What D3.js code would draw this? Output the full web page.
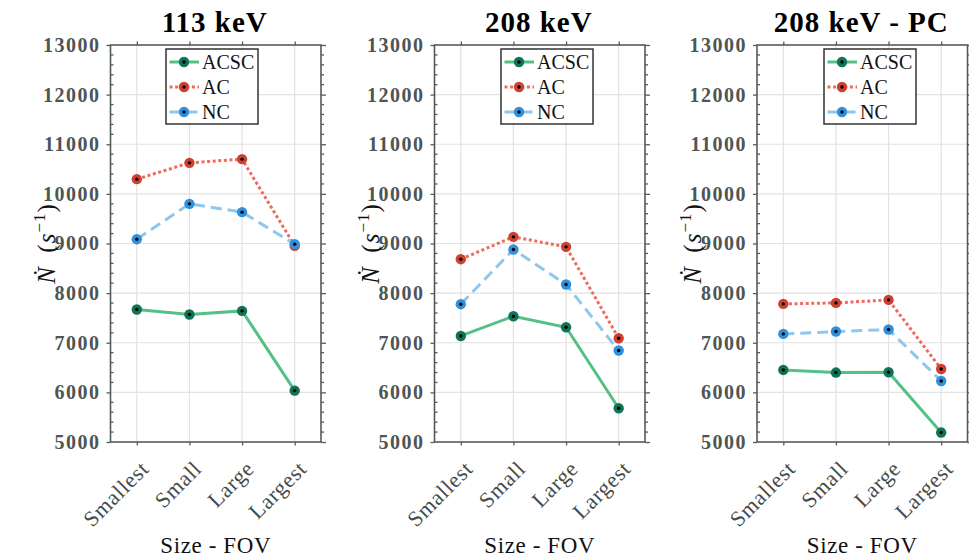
<!DOCTYPE html>
<html>
<head>
<meta charset="utf-8">
<script src="https://cdn.jsdelivr.net/npm/d3@7/dist/d3.min.js"></script>
<style>
  html, body { margin: 0; padding: 0; background: #fff; }
  svg { display: block; }
  text { font-family: "Liberation Serif", "Times New Roman", serif; }
</style>
</head>
<body>
<div id="chart"></div>
<script>
// ---------------- data ----------------
const categories = ["Smallest", "Small", "Large", "Largest"];
const panelTitles = ["113 keV", "208 keV", "208 keV - PC"];
const seriesNames = ["ACSC", "AC", "NC"];

const acsc113 = [7670, 7569, 7642, 6036];
const ac113   = [10297, 10625, 10700, 8952];
const nc113   = [9087, 9799, 9632, 8987];

const acsc208 = [7137, 7535, 7313, 5680];
const ac208   = [8684, 9134, 8932, 7091];
const nc208   = [7777, 8880, 8174, 6843];

const acsc208pc = [6452, 6399, 6405, 5190];
const ac208pc   = [7783, 7803, 7863, 6472];
const nc208pc   = [7178, 7226, 7266, 6230];

const yTicks = [5000, 6000, 7000, 8000, 9000, 10000, 11000, 12000, 13000];
const yDomain = [5000, 13000];

const panelData = [
  [acsc113, ac113, nc113],
  [acsc208, ac208, nc208],
  [acsc208pc, ac208pc, nc208pc]
];

// ---------------- styles ----------------
const lineColors   = ["#55c084", "#ee6b60", "#8ec7ec"];
const markerColors = ["#0f7456", "#cf4031", "#2f90dc"];
const dashes       = [null, "3,2.6", "11,6"];

const W = 969, H = 560;
const plotLeft = [110.5, 434.5, 757];
const plotW = 210.5;
const plotTop = 45, plotBottom = 442;
const legendLeft = [166, 501, 824];

const svg = d3.select("#chart").append("svg")
  .attr("width", W).attr("height", H);

const y = d3.scaleLinear().domain(yDomain).range([plotBottom, plotTop]);
const minorTicks = d3.range(5000, 13001, 200).filter(v => v % 1000 !== 0);

panelData.forEach((series, p) => {
  const x0 = plotLeft[p];
  const x = d3.scaleLinear().domain([0.5, 4.5]).range([x0, x0 + plotW]);
  const g = svg.append("g");

  // grid
  g.append("g").selectAll("line").data(yTicks.slice(1, -1)).join("line")
    .attr("x1", x0).attr("x2", x0 + plotW)
    .attr("y1", d => y(d)).attr("y2", d => y(d))
    .attr("stroke", "#e2e2e2").attr("stroke-width", 1.2);
  g.append("g").selectAll("line").data(categories).join("line")
    .attr("x1", (d, i) => x(i + 1)).attr("x2", (d, i) => x(i + 1))
    .attr("y1", plotTop).attr("y2", plotBottom)
    .attr("stroke", "#e2e2e2").attr("stroke-width", 1.2);

  // left axis with labels
  const axL = g.append("g").attr("transform", `translate(${x0},0)`)
    .call(d3.axisLeft(y).tickValues(yTicks).tickSize(4).tickPadding(6).tickFormat(d3.format("d")));
  axL.select(".domain").remove();
  axL.selectAll("line").attr("stroke", "#555b5b").attr("stroke-width", 1.3);
  axL.selectAll("text").attr("font-size", 20).attr("font-weight", "bold")
    .attr("fill", "#4e5555").attr("letter-spacing", "1.5px")
    .attr("font-family", "'Liberation Serif', serif");
  // inward minor ticks on left
  g.append("g").selectAll("line").data(minorTicks).join("line")
    .attr("x1", x0).attr("x2", x0 + 3)
    .attr("y1", d => y(d)).attr("y2", d => y(d))
    .attr("stroke", "#555b5b").attr("stroke-width", 1.3);

  // right axis (outward ticks)
  const axR = g.append("g").attr("transform", `translate(${x0 + plotW},0)`)
    .call(d3.axisRight(y).tickValues(yTicks).tickSize(5).tickFormat(""));
  axR.select(".domain").remove();
  axR.selectAll("line").attr("stroke", "#555b5b").attr("stroke-width", 1.3);
  g.append("g").selectAll("line").data(minorTicks).join("line")
    .attr("x1", x0 + plotW).attr("x2", x0 + plotW + 3)
    .attr("y1", d => y(d)).attr("y2", d => y(d))
    .attr("stroke", "#555b5b").attr("stroke-width", 1.3);

  // top & bottom ticks (outward)
  const tickVals = categories.map((c, i) => i + 1);
  const axT = g.append("g").attr("transform", `translate(0,${plotTop})`)
    .call(d3.axisTop(x).tickValues(tickVals).tickSize(3.5).tickFormat(""));
  axT.select(".domain").remove();
  axT.selectAll("line").attr("stroke", "#555b5b").attr("stroke-width", 1.3);

  const axB = g.append("g").attr("transform", `translate(0,${plotBottom})`)
    .call(d3.axisBottom(x).tickValues(tickVals).tickSize(3.5).tickFormat((d) => categories[d - 1]));
  axB.select(".domain").remove();
  axB.selectAll("line").attr("stroke", "#555b5b").attr("stroke-width", 1.3);
  axB.selectAll("text")
    .attr("font-size", 22).attr("fill", "#454b4b")
    .attr("letter-spacing", "0.8px")
    .attr("font-family", "'Liberation Serif', serif")
    .attr("text-anchor", "end")
    .attr("y", 0).attr("dy", 0)
    .attr("transform", "translate(13,28) rotate(-45)");

  // frame
  g.append("rect").attr("x", x0).attr("y", plotTop)
    .attr("width", plotW).attr("height", plotBottom - plotTop)
    .attr("fill", "none").attr("stroke", "#555b5b").attr("stroke-width", 1.6);

  // series
  series.forEach((vals, s) => {
    const line = d3.line().x((d, i) => x(i + 1)).y(d => y(d));
    g.append("path").datum(vals).attr("d", line)
      .attr("fill", "none").attr("stroke", lineColors[s])
      .attr("stroke-width", 3)
      .attr("stroke-dasharray", dashes[s]);
    const m = g.append("g").selectAll("g").data(vals).join("g")
      .attr("transform", (d, i) => `translate(${x(i + 1)},${y(d)})`);
    m.append("circle").attr("r", 5.2).attr("fill", markerColors[s]);
    m.append("circle").attr("r", 1.7).attr("fill", "#000");
  });

  // legend
  const lx = legendLeft[p], ly = 49;
  const lg = g.append("g").attr("transform", `translate(${lx},${ly})`);
  lg.append("rect").attr("width", 92).attr("height", 75)
    .attr("fill", "#fff").attr("stroke", "#333").attr("stroke-width", 1.5);
  seriesNames.forEach((name, s) => {
    const yy = 13 + s * 25;
    lg.append("line").attr("x1", 3.5).attr("x2", 33).attr("y1", yy).attr("y2", yy)
      .attr("stroke", lineColors[s]).attr("stroke-width", 3)
      .attr("stroke-dasharray", dashes[s]);
    lg.append("circle").attr("cx", 18).attr("cy", yy).attr("r", 5.2).attr("fill", markerColors[s]);
    lg.append("circle").attr("cx", 18).attr("cy", yy).attr("r", 1.7).attr("fill", "#000");
    lg.append("text").attr("x", 36).attr("y", yy).attr("dy", "0.35em")
      .attr("font-size", 20).attr("fill", "#111").text(name);
  });

  // title
  g.append("text").attr("x", x0 + plotW / 2 - 1).attr("y", 32)
    .attr("text-anchor", "middle").attr("font-size", 29).attr("font-weight", "bold")
    .attr("letter-spacing", "1px").attr("fill", "#000")
    .text(panelTitles[p]);

  // x label
  g.append("text").attr("x", x0 + plotW / 2).attr("y", 553)
    .attr("text-anchor", "middle").attr("font-size", 23).attr("fill", "#111")
    .attr("letter-spacing", "0.6px")
    .text("Size - FOV");

  // y label
  const yl = g.append("text")
    .attr("transform", `translate(${x0 - 56},${(plotTop + plotBottom) / 2}) rotate(-90)`)
    .attr("text-anchor", "middle").attr("font-size", 25).attr("fill", "#111")
    .attr("letter-spacing", "1px");
  yl.append("tspan").attr("font-style", "italic").text("\u1E44");
  yl.append("tspan").text("\u2002(");
  yl.append("tspan").attr("font-style", "italic").text("s");
  yl.append("tspan").attr("font-size", 17).attr("dy", -10).text("\u22121");
  yl.append("tspan").attr("dy", 10).text(")");
});
</script>
</body>
</html>
